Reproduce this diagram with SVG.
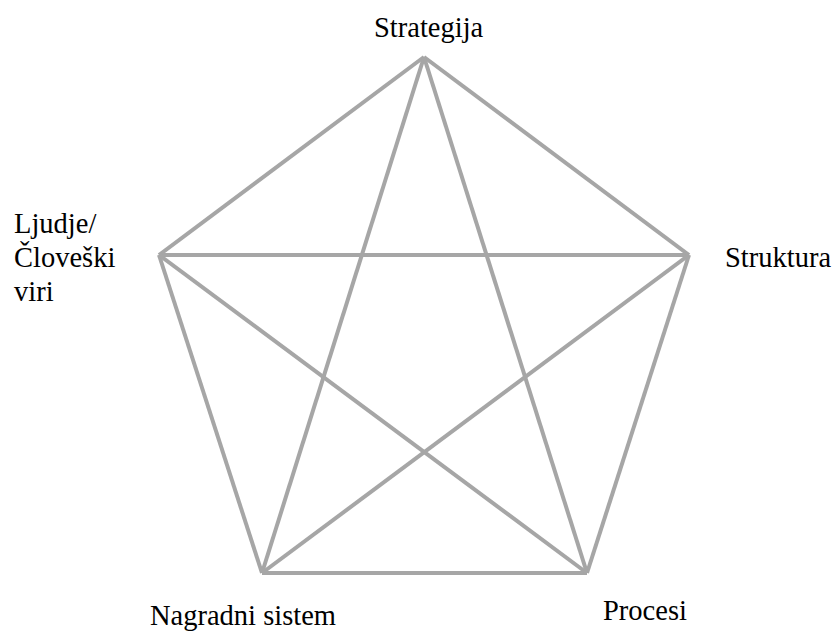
<svg xmlns="http://www.w3.org/2000/svg" width="834" height="633" viewBox="0 0 834 633">
<style>
.e{stroke:#a6a6a6;stroke-width:4;fill:none}
.t{font-family:"Liberation Serif","Times New Roman",serif;font-size:28.5px;fill:#000}
</style>
<rect width="834" height="633" fill="#fff"/>
<g id="connectors">
<line class="e" x1="424" y1="57" x2="689" y2="255"/>
<line class="e" x1="689" y1="255" x2="587" y2="573"/>
<line class="e" x1="587" y1="573" x2="262" y2="573"/>
<line class="e" x1="262" y1="573" x2="159" y2="255"/>
<line class="e" x1="159" y1="255" x2="424" y2="57"/>
<line class="e" x1="424" y1="57" x2="262" y2="573"/>
<line class="e" x1="424" y1="57" x2="587" y2="573"/>
<line class="e" x1="159" y1="255" x2="689" y2="255"/>
<line class="e" x1="159" y1="255" x2="587" y2="573"/>
<line class="e" x1="689" y1="255" x2="262" y2="573"/>
</g>
<g id="strategija"><text class="t" x="374" y="37">Strategija</text></g>
<g id="struktura"><text class="t" x="725" y="267">Struktura</text></g>
<g id="ljudje"><text class="t" x="14" y="233">Ljudje/</text><text class="t" x="14" y="267">Človeški</text><text class="t" x="14" y="301">viri</text></g>
<g id="nagradni"><text class="t" x="150" y="625">Nagradni sistem</text></g>
<g id="procesi"><text class="t" x="603" y="620">Procesi</text></g>
</svg>
